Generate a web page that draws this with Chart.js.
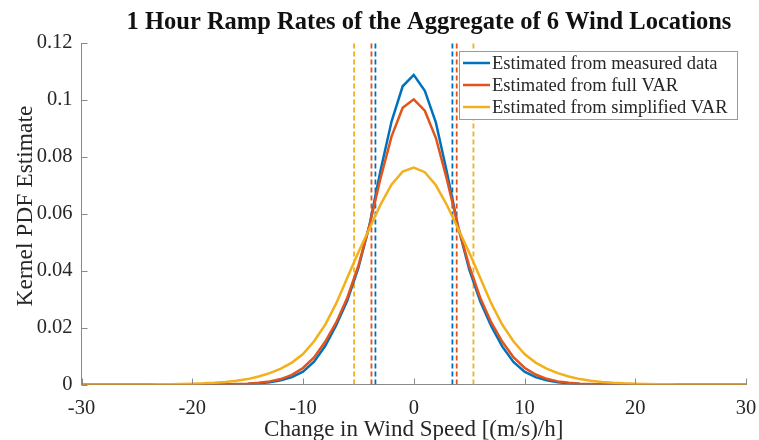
<!DOCTYPE html>
<html>
<head>
<meta charset="utf-8">
<script src="https://cdn.jsdelivr.net/npm/chart.js@4.4.1/dist/chart.umd.min.js"></script>
<style>
  html, body { margin: 0; padding: 0; background: #fff; }
  canvas { display: block; }
</style>
</head>
<body>
<canvas id="kdeChart" width="759" height="440"></canvas>
<script>
// change in wind speed, (m/s)/h
const xValues = [
  -30, -29, -28, -27, -26, -25, -24, -23, -22, -21, -20, -19, -18, -17, -16, -15,
  -14, -13, -12, -11, -10, -9, -8, -7, -6, -5, -4, -3, -2, -1, 0,
  1, 2, 3, 4, 5, 6, 7, 8, 9, 10, 11, 12, 13, 14, 15,
  16, 17, 18, 19, 20, 21, 22, 23, 24, 25, 26, 27, 28, 29, 30
];

const measuredPdf = [
  0, 0, 0, 0, 0, 0, 0, 0, 0, 0, 0, 0, 0, 0,
  0.0001, 0.0002, 0.0004, 0.0008, 0.0015, 0.0026, 0.0045, 0.0080, 0.0135, 0.0208,
  0.0295, 0.0410, 0.0560, 0.0752, 0.0925, 0.1048, 0.1088,
  0.1032, 0.0920, 0.0745, 0.0555, 0.0405, 0.0292, 0.0205, 0.0133, 0.0079,
  0.0045, 0.0026, 0.0015, 0.0008, 0.0004, 0.0002, 0.0001,
  0, 0, 0, 0, 0, 0, 0, 0, 0, 0, 0, 0, 0, 0
];

const fullVarPdf = [
  0, 0, 0, 0, 0, 0, 0, 0, 0, 0, 0, 0, 0,
  0.0001, 0.0002, 0.0003, 0.0006, 0.0011, 0.0019, 0.0034, 0.0058, 0.0095, 0.0150,
  0.0218, 0.0305, 0.0418, 0.0558, 0.0725, 0.0872, 0.0972, 0.1002,
  0.0962, 0.0866, 0.0720, 0.0555, 0.0418, 0.0305, 0.0218, 0.0150, 0.0096,
  0.0059, 0.0035, 0.0020, 0.0011, 0.0006, 0.0003, 0.0002, 0.0001,
  0, 0, 0, 0, 0, 0, 0, 0, 0, 0, 0, 0, 0
];

const simplifiedVarPdf = [
  0, 0, 0, 0, 0, 0, 0,
  0.0001, 0.0001, 0.0002, 0.0003, 0.0004, 0.0006, 0.0009, 0.0013, 0.0019, 0.0028,
  0.0040, 0.0056, 0.0077, 0.0107, 0.0152, 0.0210, 0.0285, 0.0375, 0.0465, 0.0548,
  0.0632, 0.0703, 0.0748, 0.0762,
  0.0746, 0.0700, 0.0630, 0.0548, 0.0465, 0.0375, 0.0285, 0.0210, 0.0152, 0.0107,
  0.0077, 0.0056, 0.0040, 0.0028, 0.0019, 0.0013, 0.0009, 0.0006, 0.0004, 0.0003,
  0.0002, 0.0001, 0.0001,
  0, 0, 0, 0, 0, 0, 0
];

// dashed vertical limits for each estimate
const measuredLimits = [-3.46, 3.49];
const fullVarLimits = [-3.82, 3.88];
const simplifiedLimits = [-5.39, 5.39];

const seriesNames = [
  "Estimated from measured data",
  "Estimated from full VAR",
  "Estimated from simplified VAR"
];
const seriesColors = ["#0072BD", "#E25419", "#F2B01C"];

const xRange = [-30, 30];
const xStep = 10;
const yRange = [0, 0.12];
const yStep = 0.02;

const titleText = "1 Hour Ramp Rates of the Aggregate of 6 Wind Locations";
const xTitle = "Change in Wind Speed [(m/s)/h]";
const yTitle = "Kernel PDF Estimate";

const serif = "'Liberation Serif', 'Times New Roman', serif";

function curve(i, values, order) {
  return {
    label: seriesNames[i],
    data: xValues.map((x, k) => ({ x: x, y: values[k] })),
    borderColor: seriesColors[i],
    borderWidth: 2.5,
    pointRadius: 0,
    tension: 0,
    fill: false,
    order: order
  };
}

function limitLines(i, limits) {
  return limits.map(v => ({
    label: "",
    data: [{ x: v, y: yRange[0] }, { x: v, y: yRange[1] }],
    borderColor: seriesColors[i],
    borderWidth: 1.8,
    borderDash: [5, 3],
    pointRadius: 0,
    fill: false,
    order: 10
  }));
}

const decorations = {
  id: "decorations",
  afterDraw(chart) {
    const { ctx, chartArea: a, scales } = chart;
    const xs = scales.x, ys = scales.y;
    ctx.save();

    // inward tick marks
    ctx.strokeStyle = "#8a8a8a";
    ctx.lineWidth = 1;
    ctx.beginPath();
    xs.ticks.forEach(t => {
      const px = Math.round(xs.getPixelForValue(t.value)) + 0.5;
      ctx.moveTo(px, a.bottom);
      ctx.lineTo(px, a.bottom - 6);
    });
    ys.ticks.forEach(t => {
      const py = Math.round(ys.getPixelForValue(t.value)) + 0.5;
      ctx.moveTo(a.left, py);
      ctx.lineTo(a.left + 6, py);
    });
    ctx.stroke();

    // legend box
    const box = { left: 459, top: 51, width: 278, height: 68 };
    ctx.fillStyle = "#fff";
    ctx.fillRect(box.left, box.top, box.width, box.height);
    ctx.strokeStyle = "#9a9a9a";
    ctx.strokeRect(box.left + 0.5, box.top + 0.5, box.width, box.height);
    ctx.font = "18.5px " + serif;
    ctx.textBaseline = "middle";
    ctx.textAlign = "left";
    seriesNames.forEach((name, i) => {
      const cy = box.top + 12 + i * 22;
      ctx.strokeStyle = seriesColors[i];
      ctx.lineWidth = 2.5;
      ctx.beginPath();
      ctx.moveTo(box.left + 4, cy);
      ctx.lineTo(box.left + 31, cy);
      ctx.stroke();
      ctx.fillStyle = "#262626";
      ctx.fillText(name, box.left + 33, cy + 1);
    });

    // titles
    ctx.fillStyle = "#111";
    ctx.textAlign = "center";
    ctx.textBaseline = "alphabetic";
    ctx.font = "bold 24.5px " + serif;
    ctx.fillText(titleText, 429, 29);
    ctx.fillStyle = "#262626";
    ctx.font = "23px " + serif;
    ctx.fillText(xTitle, (a.left + a.right) / 2, 436);
    ctx.translate(32, 206);
    ctx.rotate(-Math.PI / 2);
    ctx.font = "23.5px " + serif;
    ctx.fillText(yTitle, 0, 0);

    ctx.restore();
  }
};

new Chart(document.getElementById("kdeChart"), {
  type: "line",
  data: {
    datasets: [
      curve(2, simplifiedVarPdf, 1),
      curve(1, fullVarPdf, 2),
      curve(0, measuredPdf, 3),
      ...limitLines(0, measuredLimits),
      ...limitLines(1, fullVarLimits),
      ...limitLines(2, simplifiedLimits)
    ]
  },
  options: {
    responsive: false,
    animation: false,
    layout: { padding: { left: 0, right: 13, top: 43, bottom: 0 } },
    plugins: {
      legend: { display: false },
      title: { display: false },
      tooltip: { enabled: false }
    },
    scales: {
      x: {
        type: "linear",
        min: xRange[0],
        max: xRange[1],
        ticks: {
          stepSize: xStep,
          padding: 2,
          maxRotation: 0,
          color: "#262626",
          font: { family: serif, size: 20.5, lineHeight: 2.2 }
        },
        grid: { display: true, drawOnChartArea: false, drawTicks: false },
        border: { display: true, color: "#8a8a8a", width: 1 },
        afterFit(scale) { scale.height = 55.5; }
      },
      y: {
        type: "linear",
        min: yRange[0],
        max: yRange[1],
        ticks: {
          stepSize: yStep,
          padding: 9,
          color: "#262626",
          font: { family: serif, size: 20.5 },
          callback: v => String(Number(v.toFixed(2)))
        },
        grid: { display: true, drawOnChartArea: false, drawTicks: false },
        border: { display: true, color: "#8a8a8a", width: 1 },
        afterFit(scale) { scale.width = 81.5; }
      }
    }
  },
  plugins: [decorations]
});
</script>
</body>
</html>
